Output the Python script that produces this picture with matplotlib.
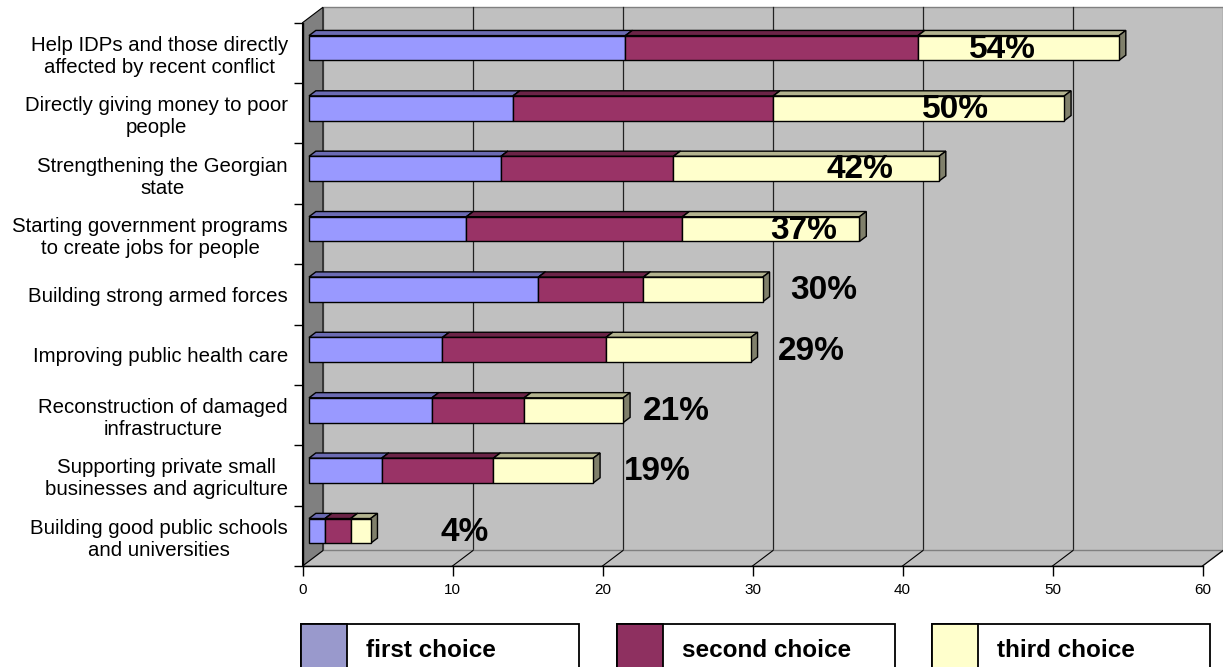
import matplotlib
matplotlib.use("Agg")
import matplotlib.pyplot as plt
from matplotlib.patches import Polygon, Rectangle

CATEGORIES = [
    "Help IDPs and those directly\naffected by recent conflict",
    "Directly giving money to poor\npeople",
    "Strengthening the Georgian\nstate",
    "Starting government programs\nto create jobs for people",
    "Building strong armed forces",
    "Improving public health care",
    "Reconstruction of damaged\ninfrastructure",
    "Supporting private small\nbusinesses and agriculture",
    "Building good public schools\nand universities",
]
FIRST = [21.1, 13.6, 12.8, 10.5, 15.3, 8.9, 8.2, 4.85, 1.07]
SECOND = [19.5, 17.35, 11.5, 14.4, 7.0, 10.9, 6.15, 7.45, 1.71]
THIRD = [13.4, 19.4, 17.7, 11.8, 7.95, 9.65, 6.6, 6.65, 1.33]
TOTALS = [54, 50, 42, 37, 30, 29, 21, 19, 4]
SERIES = ["first choice", "second choice", "third choice"]
X_TICKS = [0, 10, 20, 30, 40, 50, 60]

# where Excel put the total labels (x in data units)
LABEL_X = [46.2, 43.1, 36.7, 33.0, 34.3, 33.5, 24.5, 23.2, 10.4]

# front / top / side shades for the 3-D bars
FACE_COLORS = ["#9999FF", "#993366", "#FFFFCC"]
TOP_COLORS = ["#6B6BB3", "#6B2447", "#B3B38F"]
SIDE_COLORS = ["#4D4D80", "#4D1A33", "#80806B"]
LEGEND_COLORS = ["#9999CC", "#8E3060", "#FFFFCC"]

W, H = 1223, 667
plt.rcParams["font.family"] = ["Liberation Sans", "DejaVu Sans"]

fig = plt.figure(figsize=(W / 100, H / 100), dpi=100)
ax = fig.add_axes([302.5 / W, (H - 566) / H, 900 / W, 543.3 / H])
n = len(CATEGORIES)
xmax = X_TICKS[-1]
ax.set_xlim(0, xmax)
ax.set_ylim(n, 0)
ax.patch.set_visible(False)

# depth of the 3-D box, in data units
DX = 20.5 * xmax / 900
DY = 15.5 * n / 543.3
F0, F1 = 0.317, 0.65  # bar front / back depth fraction
HALF = 0.205


def shift(x, y, f):
    return (x + f * DX, y - f * DY)


def face(pts, **kw):
    ax.add_patch(Polygon(pts, closed=True, clip_on=False, **kw))


# back wall, floor, left wall
face([shift(0, 0, 1), shift(xmax, 0, 1), shift(xmax, n, 1), shift(0, n, 1)],
     fc="#C0C0C0", ec="#808080", lw=1, zorder=0.5)
for v in X_TICKS[1:-1]:
    ax.plot([v + DX, v + DX], [-DY, n - DY], color="#222222", lw=0.9,
            clip_on=False, zorder=0.6)
face([shift(0, n, 0), shift(xmax, n, 0), shift(xmax, n, 1), shift(0, n, 1)],
     fc="#C0C0C0", ec="#808080", lw=1, zorder=0.7)
for v in X_TICKS[1:]:
    ax.plot([v, v + DX], [n, n - DY], color="black", lw=0.8,
            clip_on=False, zorder=0.8)
face([shift(0, 0, 0), shift(0, 0, 1), shift(0, n, 1), shift(0, n, 0)],
     fc="#808080", ec="black", lw=0.8, zorder=0.9)

# stacked 3-D bars
for i in range(n):
    c = i + 0.5
    left = 0
    for k, vals in enumerate([FIRST, SECOND, THIRD]):
        right = left + vals[i]
        z = 2 + k * 0.1
        face([shift(left, c - HALF, F0), shift(right, c - HALF, F0),
              shift(right, c - HALF, F1), shift(left, c - HALF, F1)],
             fc=TOP_COLORS[k], ec="black", lw=1, zorder=z)
        face([shift(right, c - HALF, F0), shift(right, c + HALF, F0),
              shift(right, c + HALF, F1), shift(right, c - HALF, F1)],
             fc=SIDE_COLORS[k], ec="black", lw=1, zorder=z)
        face([shift(left, c - HALF, F0), shift(right, c - HALF, F0),
              shift(right, c + HALF, F0), shift(left, c + HALF, F0)],
             fc=FACE_COLORS[k], ec="black", lw=1, zorder=z + 0.05)
        left = right
    lx, ly = shift(LABEL_X[i], c, F0)
    ax.text(lx, ly + 0.02, f"{TOTALS[i]}%", ha="center", va="center",
            fontsize=24, fontweight="bold", zorder=6)

# axes
for side in ["top", "right"]:
    ax.spines[side].set_visible(False)
for side in ["left", "bottom"]:
    ax.spines[side].set_linewidth(1)
    ax.spines[side].set_zorder(1)

ax.set_xticks(X_TICKS)
ax.tick_params(axis="x", length=7.2, width=1, labelsize=11, pad=5)
ax.set_yticks([i + 0.5 for i in range(n)], CATEGORIES)
ax.set_yticks(range(n + 1), minor=True)
ax.tick_params(axis="y", which="major", length=0, pad=10.4, labelsize=14.7)
ax.tick_params(axis="y", which="minor", length=6.8, width=1)
for lbl in ax.get_yticklabels():
    lbl.set_multialignment("center")

# legend boxes along the bottom
LEG_LEFT = [301, 617, 932]
for k, name in enumerate(SERIES):
    x0 = LEG_LEFT[k]
    fig.add_artist(Rectangle((x0 / W, (H - 690) / H), 278 / W, 66 / H,
                             transform=fig.transFigure, fc="white", ec="black", lw=1.3))
    fig.add_artist(Rectangle((x0 / W, (H - 690) / H), 46 / W, 66 / H,
                             transform=fig.transFigure, fc=LEGEND_COLORS[k],
                             ec="black", lw=1.3))
    fig.text((x0 + 65) / W, (H - 657) / H, name, fontsize=17.5,
             fontweight="bold", va="baseline", ha="left")

fig.savefig("out.png", dpi=100)
